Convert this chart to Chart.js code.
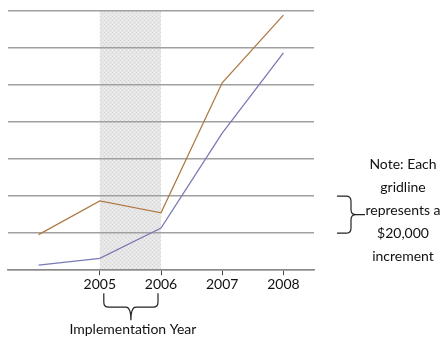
<!DOCTYPE html>
<html>
<head>
<meta charset="utf-8">
<script src="https://cdn.jsdelivr.net/npm/chart.js@4"></script>
<style>
  html, body { margin: 0; padding: 0; background: #fff; }
  #wrap { width: 446px; height: 337px; position: relative; }
</style>
</head>
<body>
<div id="wrap"><canvas id="c" width="446" height="337"></canvas></div>
<script>
// Years on the x axis; the first year is plotted but left unlabelled
const years = ['2004', '2005', '2006', '2007', '2008'];
const yearLabels = ['', '2005', '2006', '2007', '2008'];
// Dollar values of the two series
const seriesUpper = [19200, 37400, 31000, 101200, 137800];
const seriesLower = [2700, 6400, 22800, 74000, 117400];
// Gridline spacing and range
const gridStep = 20000;
const yMax = 140000;
// Implementation period shaded on the chart
const shadeFrom = '2005';
const shadeTo = '2006';
// Side note and bottom caption
const noteLines = ['Note: Each', 'gridline', 'represents a', '$20,000', 'increment'];
const periodCaption = 'Implementation Year';

const FONT = 'Lato, "Open Sans", sans-serif';

function makeDotPattern(ctx) {
  const p = document.createElement('canvas');
  p.width = 4; p.height = 4;
  const g = p.getContext('2d');
  g.fillStyle = '#e6e6e6';
  g.fillRect(0, 0, 4, 4);
  g.fillStyle = '#d6d6d6';
  g.fillRect(0, 0, 1, 1);
  g.fillRect(2, 2, 1, 1);
  g.fillStyle = '#eeeeee';
  g.fillRect(2, 0, 1, 1);
  g.fillRect(0, 2, 1, 1);
  return ctx.createPattern(p, 'repeat');
}

const shadePlugin = {
  id: 'shade',
  beforeDraw(chart) {
    const { ctx, chartArea, scales } = chart;
    const x0 = scales.x.getPixelForValue(years.indexOf(shadeFrom));
    const x1 = scales.x.getPixelForValue(years.indexOf(shadeTo));
    ctx.save();
    ctx.fillStyle = makeDotPattern(ctx);
    ctx.fillRect(x0, chartArea.top, x1 - x0, chartArea.bottom - chartArea.top);
    ctx.restore();
  }
};

function drawBraceDown(ctx, xl, xr, yTop, yMid, yTip) {
  const xm = (xl + xr) / 2;
  const r = 5;
  ctx.beginPath();
  ctx.moveTo(xl, yTop);
  ctx.lineTo(xl, yMid - r);
  ctx.quadraticCurveTo(xl, yMid, xl + r, yMid);
  ctx.lineTo(xm - r, yMid);
  ctx.quadraticCurveTo(xm, yMid, xm, yTip);
  ctx.moveTo(xr, yTop);
  ctx.lineTo(xr, yMid - r);
  ctx.quadraticCurveTo(xr, yMid, xr - r, yMid);
  ctx.lineTo(xm + r, yMid);
  ctx.quadraticCurveTo(xm, yMid, xm, yTip);
  ctx.stroke();
}

function drawBraceRight(ctx, yt, yb, xLeft, xMid, xTip) {
  const ym = (yt + yb) / 2;
  const r = 5;
  ctx.beginPath();
  ctx.moveTo(xLeft, yt);
  ctx.lineTo(xMid - r, yt);
  ctx.quadraticCurveTo(xMid, yt, xMid, yt + r);
  ctx.lineTo(xMid, ym - r);
  ctx.quadraticCurveTo(xMid, ym, xMid + r, ym);
  ctx.lineTo(xTip, ym);
  ctx.moveTo(xLeft, yb);
  ctx.lineTo(xMid - r, yb);
  ctx.quadraticCurveTo(xMid, yb, xMid, yb - r);
  ctx.lineTo(xMid, ym + r);
  ctx.quadraticCurveTo(xMid, ym, xMid + r, ym);
  ctx.stroke();
}

const annotationPlugin = {
  id: 'notes',
  afterDraw(chart) {
    const { ctx, chartArea, scales } = chart;
    const x = scales.x, y = scales.y;
    ctx.save();
    ctx.strokeStyle = '#222';
    ctx.lineWidth = 1.2;

    // brace under the implementation period
    const x0 = x.getPixelForValue(years.indexOf(shadeFrom)) + 4;
    const x1 = x.getPixelForValue(years.indexOf(shadeTo)) - 3;
    drawBraceDown(ctx, x0, x1, chartArea.bottom + 23, chartArea.bottom + 37, chartArea.bottom + 50);

    ctx.fillStyle = '#111';
    ctx.font = '14px ' + FONT;
    ctx.textAlign = 'center';
    ctx.textBaseline = 'alphabetic';
    ctx.fillText(periodCaption, (x0 + x1) / 2 + 2, chartArea.bottom + 64);

    // brace spanning one gridline interval, beside the note
    const yt = y.getPixelForValue(gridStep * 2);
    const yb = y.getPixelForValue(gridStep);
    drawBraceRight(ctx, yt, yb, chartArea.right + 23, chartArea.right + 37, chartArea.right + 51);

    ctx.font = '14px ' + FONT;
    const cx = chartArea.right + 89;
    const base = 169;
    noteLines.forEach((t, i) => ctx.fillText(t, cx, base + i * 23));
    ctx.restore();
  }
};

new Chart(document.getElementById('c'), {
  type: 'line',
  data: {
    labels: years,
    datasets: [
      { data: seriesUpper, borderColor: '#b07a45', borderWidth: 1.3, pointRadius: 0, tension: 0 },
      { data: seriesLower, borderColor: '#7a7ab6', borderWidth: 1.3, pointRadius: 0, tension: 0 }
    ]
  },
  options: {
    responsive: false,
    animation: false,
    devicePixelRatio: 1,
    layout: { padding: { left: 8, right: 132, top: 11, bottom: 43 } },
    plugins: { legend: { display: false }, tooltip: { enabled: false } },
    scales: {
      x: {
        offset: true,
        grid: {
          offset: false,
          drawOnChartArea: false,
          drawTicks: true,
          tickLength: 5,
          color: (c) => (c.index === 0 ? 'rgba(0,0,0,0)' : '#444'),
          lineWidth: 1
        },
        border: { display: true, color: '#8a8a8a', width: 1.5 },
        ticks: {
          callback: (v, i) => yearLabels[i],
          color: '#111',
          font: { family: FONT, size: 14 },
          padding: 1,
          maxRotation: 0,
          autoSkip: false
        }
      },
      y: {
        min: 0,
        max: yMax,
        grid: { color: '#a0a0a0', lineWidth: 1.5, drawTicks: false },
        border: { display: false },
        ticks: { display: false, stepSize: gridStep },
        afterFit: (s) => { s.width = 0; }
      }
    }
  },
  plugins: [shadePlugin, annotationPlugin]
});
</script>
</body>
</html>
